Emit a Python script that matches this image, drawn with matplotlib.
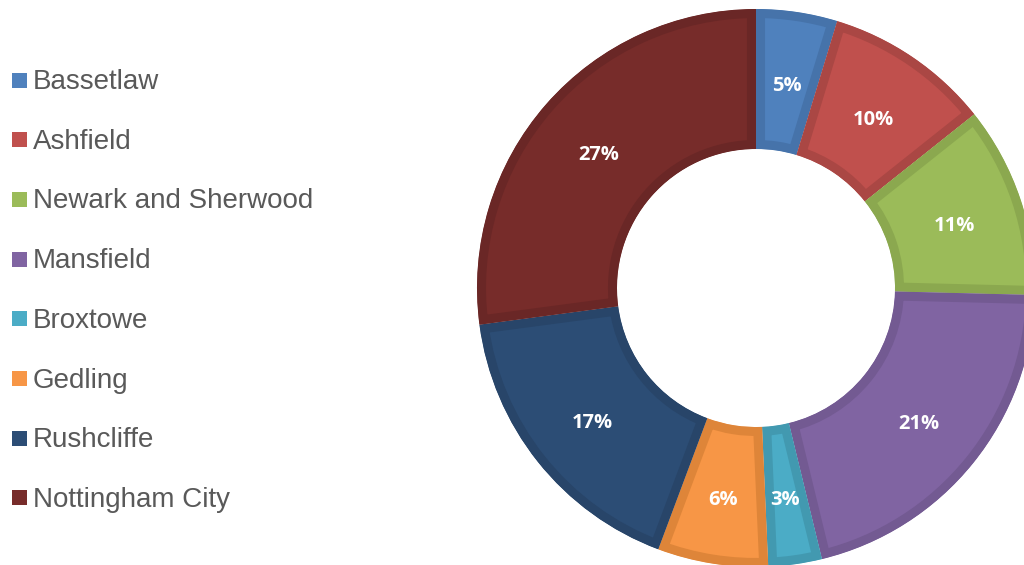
import matplotlib
matplotlib.use('Agg')
import matplotlib.pyplot as plt
from matplotlib.patches import Rectangle

districts = ['Bassetlaw', 'Ashfield', 'Newark and Sherwood', 'Mansfield',
             'Broxtowe', 'Gedling', 'Rushcliffe', 'Nottingham City']
shares = [4.7, 9.6, 11.1, 20.8, 3.1, 6.4, 17.2, 27.1]

fill_colors = ['#4F81BD', '#C0504D', '#9BBB59', '#8064A2',
               '#4BACC6', '#F79646', '#2C4D75', '#772C2A']
edge_colors = ['#4673AA', '#AA4744', '#8BA84F', '#735A92',
               '#4299B0', '#DE8539', '#284569', '#6A2726']

fig = plt.figure(figsize=(10.24, 5.65), dpi=100)
ax = fig.add_axes([0, 0, 1, 1])

wedges, texts, autotexts = ax.pie(
    shares, colors=fill_colors, startangle=90, counterclock=False,
    center=(756, 277), radius=279, frame=True,
    autopct='%.0f%%', pctdistance=0.75,
    wedgeprops=dict(width=140, linewidth=0),
    textprops=dict(color='white', fontsize=14.5, fontweight='bold',
                   family='Open Sans'))
ax.set_xlim(0, 1024)
ax.set_ylim(0, 565)
ax.set_aspect('equal')
ax.axis('off')

# darker inner border on each segment: stroke clipped to the wedge itself
for w, ec in zip(wedges, edge_colors):
    w.set_edgecolor(ec)
    w.set_linewidth(13)
    w.set_joinstyle('miter')
    w.set_clip_on(True)
    w.set_clip_path(w)

# nudge the percentage labels down a touch
for t in autotexts:
    x, y = t.get_position()
    t.set_position((x, y - 5))

# legend on the left
for i, (name, c) in enumerate(zip(districts, fill_colors)):
    y = 565 - 80 - i * 59.7
    ax.add_patch(Rectangle((12, y - 7.5), 15, 15, facecolor=c, edgecolor='none'))
    ax.text(33, y - 2, name, fontsize=20, color='#595959', va='center',
            ha='left', family='Liberation Sans')

fig.savefig('out.png', dpi=100)
